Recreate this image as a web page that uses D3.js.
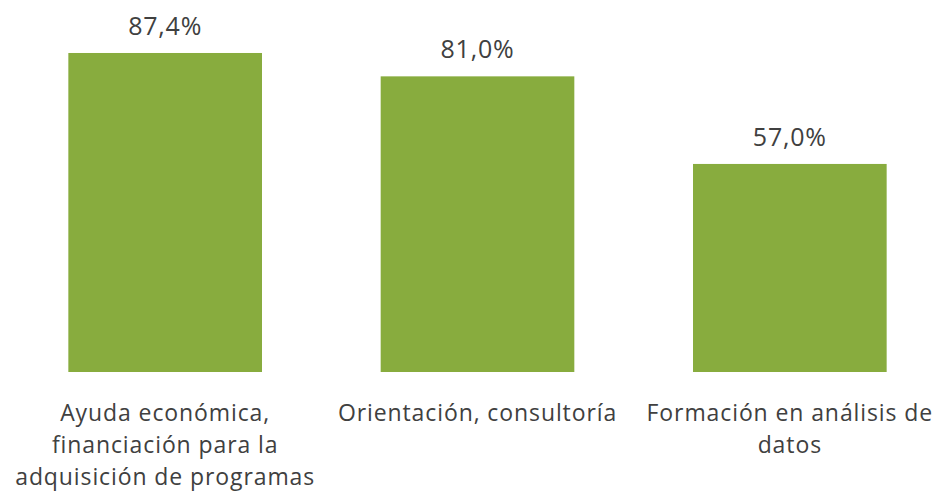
<!DOCTYPE html>
<html>
<head>
<meta charset="utf-8">
<script src="https://cdn.jsdelivr.net/npm/d3@7"></script>
<style>
  body { margin: 0; background: #fff; }
  text { font-family: "Open Sans", sans-serif; fill: #404040; }
</style>
</head>
<body>
<div id="chart"></div>
<script>
// saltos de línea como en el original
const categories = [
    "Ayuda económica,\nfinanciación para la\nadquisición de programas",
    "Orientación, consultoría",
    "Formación en análisis de\ndatos"
];
const values = [87.4, 81.0, 57.0];

const width = 938;
const height = 498;
const baseline = 372;
const barColor = "#88AC3E";

const svg = d3.select("#chart")
    .append("svg")
    .attr("width", width)
    .attr("height", height);

const x = d3.scaleBand()
    .domain(categories)
    .range([9, 946])
    .paddingInner(0.38)
    .paddingOuter(0.19);

const y = d3.scaleLinear()
    .domain([0, 100])
    .range([baseline, baseline - 365]);

const fmt = v => d3.format(".1f")(v).replace(".", ",") + "%";

// barras
svg.selectAll("rect.bar")
    .data(values)
    .join("rect")
    .attr("class", "bar")
    .attr("x", (d, i) => x(categories[i]))
    .attr("y", d => y(d))
    .attr("width", x.bandwidth())
    .attr("height", d => y(0) - y(d))
    .attr("fill", barColor);

// etiquetas de valor
svg.selectAll("text.value")
    .data(values)
    .join("text")
    .attr("class", "value")
    .attr("x", (d, i) => x(categories[i]) + x.bandwidth() / 2)
    .attr("y", d => y(d) - 18)
    .attr("text-anchor", "middle")
    .attr("font-size", "25px")
    .attr("letter-spacing", "0.8px")
    .text(fmt);

// etiquetas de categoría
svg.selectAll("text.cat")
    .data(categories)
    .join("text")
    .attr("class", "cat")
    .attr("x", d => x(d) + x.bandwidth() / 2)
    .attr("y", baseline + 49)
    .attr("text-anchor", "middle")
    .attr("font-size", "23px")
    .attr("letter-spacing", "0.9px")
    .each(function (d) {
        const t = d3.select(this);
        const cx = +t.attr("x");
        d.split("\n").forEach((ln, i) => {
            t.append("tspan")
                .attr("x", cx)
                .attr("dy", i === 0 ? 0 : 32)
                .text(ln);
        });
    });
</script>
</body>
</html>
